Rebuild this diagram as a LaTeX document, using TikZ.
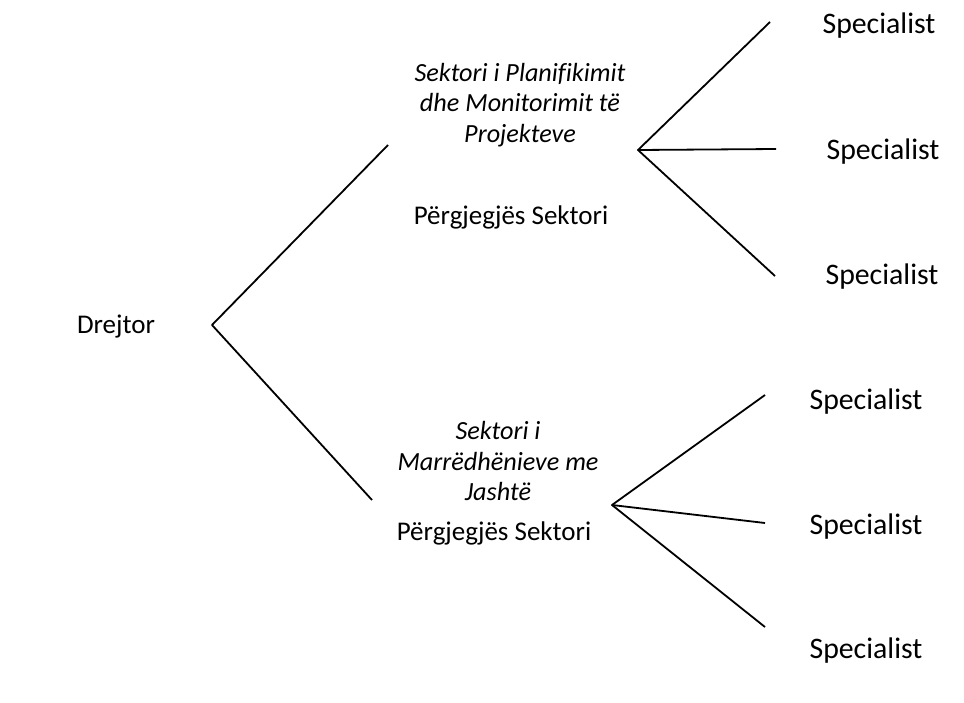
\documentclass[tikz,border=0pt]{standalone}
\usepackage{fontspec}
\setmainfont[Ligatures=NoCommon]{Carlito}
\begin{document}
\begin{tikzpicture}[x=0.5pt,y=-0.5pt,
  lbl/.style={inner sep=0pt,align=center,font=\fontsize{14.9}{16}\selectfont},
  sml/.style={inner sep=0pt,align=center,font=\fontsize{13.5}{16}\selectfont},
  ital/.style={inner sep=0pt,align=center,font=\fontsize{13.1}{15.3}\selectfont\itshape},
  conn/.style={line width=0.9pt,line join=round}]
\useasboundingbox (0,0) rectangle (964,702);
\node[sml] (dir) at (116,327) {Drejtor};
\node[ital] (s1) at (520,105) {Sektori i Planifikimit\\dhe Monitorimit të\\Projekteve};
\node[sml] (p1) at (511,217) {Përgjegjës Sektori};
\node[ital] (s2) at (498,461) {Sektori i\\Marrëdhënieve me\\Jashtë};
\node[sml] (p2) at (494,533) {Përgjegjës Sektori};
\node[lbl] (a1) at (879,26) {Specialist};
\node[lbl] (a2) at (883,152) {Specialist};
\node[lbl] (a3) at (882,277) {Specialist};
\node[lbl] (b1) at (866,402) {Specialist};
\node[lbl] (b2) at (866,527) {Specialist};
\node[lbl] (b3) at (866,651) {Specialist};
\coordinate (d0) at (212,325);
\coordinate (d1) at (388,145);
\coordinate (d2) at (372,500);
\coordinate (t0) at (638,150);
\coordinate (t1) at (770,22);
\coordinate (t2) at (776,149);
\coordinate (t3) at (775,276);
\coordinate (u0) at (612,505);
\coordinate (u1) at (765,395);
\coordinate (u2) at (765,523);
\coordinate (u3) at (765,627);
\draw[conn] (d1) -- (d0) -- (d2);
\draw[conn] (t1) -- (t0) -- (t3);
\draw[conn] (t0) -- (t2);
\draw[conn] (u1) -- (u0) -- (u3);
\draw[conn] (u0) -- (u2);
\end{tikzpicture}
\end{document}
